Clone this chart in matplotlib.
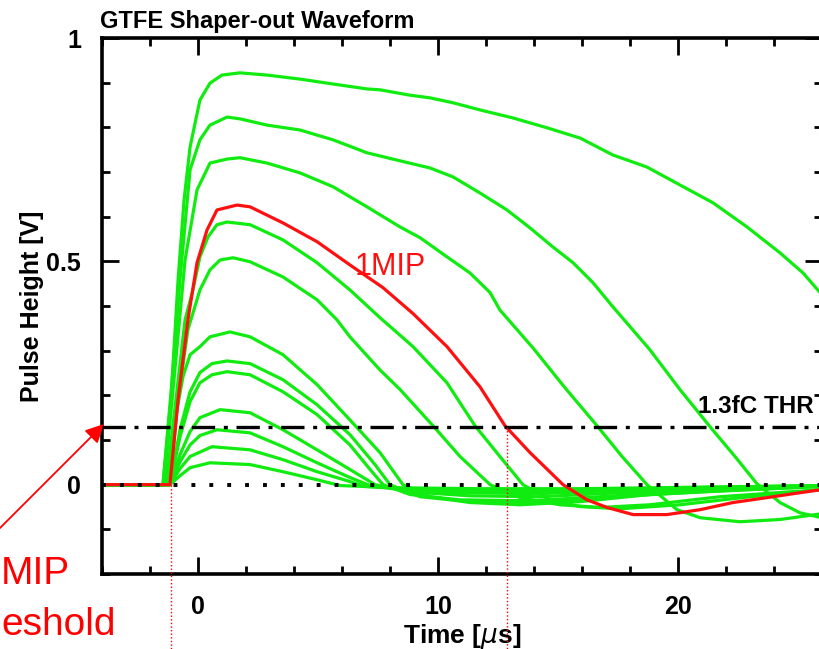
import matplotlib
matplotlib.use("Agg")
import matplotlib.pyplot as plt

# waveform traces: time [us], height [V]
t_g1 = [-4.0, -1.46, -1.125, -0.83, -0.58, -0.33, 0.08, 0.5, 1.0, 1.75, 2.875, 4.25, 5.625, 7.04, 7.58,
        8.83, 9.67, 10.625, 11.75, 13.125, 14.54, 15.92, 17.29, 18.71, 20.08, 21.46, 22.875, 24.25, 25.21, 26.0]
v_g1 = [0, 0, 0.190, 0.459, 0.638, 0.756, 0.861, 0.899, 0.917, 0.922, 0.917, 0.908, 0.897, 0.886, 0.884,
        0.872, 0.866, 0.855, 0.839, 0.821, 0.799, 0.776, 0.738, 0.711, 0.671, 0.631, 0.577, 0.519, 0.474, 0.425]

t_g2 = [-4.0, -1.46, -1.08, -0.75, -0.33, 0.08, 0.5, 1.21, 1.75, 2.875, 4.25, 5.625, 7.04, 8.42, 9.67, 10.625,
        11.75, 12.875, 13.83, 14.79, 15.625, 16.46, 17.29, 18.83, 20.08, 21.33, 22.375, 23.29, 24.25, 25.08, 26.0]
v_g2 = [0, 0, 0.235, 0.459, 0.705, 0.772, 0.805, 0.823, 0.819, 0.805, 0.794, 0.772, 0.743, 0.725, 0.709, 0.689,
        0.653, 0.615, 0.575, 0.532, 0.497, 0.452, 0.398, 0.302, 0.213, 0.130, 0.063, 0.002, -0.040, -0.063, -0.074]

t_g3 = [-4.0, -1.42, -1.0, -0.54, -0.04, 0.5, 1.21, 1.75, 2.875, 4.25, 5.625, 7.04, 8.42, 9.25, 10.375, 11.33,
        12.17, 12.58, 13.96, 15.29, 16.625, 17.67, 18.71, 19.96, 20.92, 22.58, 24.25, 26.0]
v_g3 = [0, 0, 0.235, 0.503, 0.660, 0.720, 0.729, 0.732, 0.720, 0.698, 0.667, 0.622, 0.577, 0.553, 0.510, 0.474,
        0.430, 0.391, 0.306, 0.217, 0.132, 0.063, 0, -0.056, -0.074, -0.083, -0.078, -0.065]

# 1 MIP pulse (red)
t_mip = [-4.0, -1.17, -0.83, -0.42, -0.04, 0.375, 0.79, 1.625, 2.17, 3.54, 4.96, 6.33, 7.71, 8.96, 10.375,
         11.75, 12.79, 13.83, 15.21, 16.21, 17.04, 18.125, 19.54, 20.92, 22.29, 23.71, 25.08, 26.0]
v_mip = [0, 0, 0.190, 0.369, 0.497, 0.570, 0.615, 0.626, 0.622, 0.586, 0.544, 0.492, 0.441, 0.383, 0.309,
         0.219, 0.132, 0.072, 0, -0.034, -0.051, -0.067, -0.067, -0.056, -0.040, -0.029, -0.018, -0.011]

t_g5 = [-4.0, -1.33, -0.92, -0.54, -0.21, 0.08, 0.42, 0.79, 1.21, 2.17, 3.54, 4.96, 6.33, 7.58, 8.96, 10.375,
        11.54, 12.58, 13.54, 14.67, 15.92, 17.58, 20.08, 23.0, 26.0]
v_g5 = [0, 0, 0.190, 0.369, 0.436, 0.510, 0.555, 0.582, 0.588, 0.582, 0.548, 0.497, 0.436, 0.374, 0.309, 0.228,
        0.132, 0.063, 0, -0.034, -0.049, -0.054, -0.045, -0.027, -0.011]

t_g6 = [-4.0, -1.25, -0.83, -0.42, 0.08, 0.5, 0.92, 1.46, 2.17, 3.54, 4.96, 5.79, 6.33, 7.58, 8.42, 9.79,
        10.92, 12.17, 13.42, 15.08, 16.75, 18.83, 21.75, 26.0]
v_g6 = [0, 0, 0.190, 0.347, 0.436, 0.481, 0.503, 0.508, 0.499, 0.465, 0.414, 0.369, 0.331, 0.257, 0.213, 0.132,
        0.063, 0, -0.029, -0.045, -0.051, -0.045, -0.027, -0.011]

t_g7 = [-4.0, -1.17, -0.875, -0.625, -0.33, 0.08, 0.5, 1.33, 2.17, 3.54, 4.96, 6.33, 7.58, 8.54, 9.67, 11.33,
        13.42, 15.92, 18.83, 23.0, 26.0]
v_g7 = [0, 0, 0.168, 0.242, 0.291, 0.309, 0.331, 0.342, 0.331, 0.291, 0.224, 0.145, 0.072, 0, -0.027, -0.040,
        -0.045, -0.038, -0.022, -0.011, -0.004]

t_g8 = [-4.0, -1.17, -0.75, -0.33, 0.08, 0.58, 1.21, 2.17, 3.54, 4.96, 6.33, 7.375, 8.0, 9.25, 11.33, 13.83,
        16.75, 20.92, 26.0]
v_g8 = [0, 0, 0.123, 0.208, 0.251, 0.271, 0.277, 0.271, 0.235, 0.179, 0.112, 0.045, 0, -0.027, -0.038, -0.040,
        -0.029, -0.016, -0.004]

t_g9 = [-4.0, -1.17, -0.75, -0.33, 0.08, 0.58, 1.21, 2.17, 3.54, 4.96, 6.33, 7.17, 7.71, 8.83, 10.92, 13.83,
        16.75, 20.92, 26.0]
v_g9 = [0, 0, 0.107, 0.186, 0.228, 0.246, 0.253, 0.246, 0.208, 0.157, 0.089, 0.034, 0, -0.022, -0.034, -0.036,
        -0.027, -0.013, -0.002]

t_g10 = [-4.0, -1.17, -0.75, -0.33, 0.08, 0.92, 2.17, 3.54, 4.96, 6.33, 7.375, 8.83, 11.33, 14.25, 17.58, 21.75, 26.0]
v_g10 = [0, 0, 0.067, 0.119, 0.150, 0.168, 0.161, 0.123, 0.078, 0.034, 0, -0.016, -0.025, -0.027, -0.018, -0.009, -0.002]

t_g11 = [-4.0, -1.17, -0.75, -0.33, 0.08, 0.79, 2.17, 3.54, 4.96, 6.33, 7.17, 8.42, 10.92, 14.25, 18.42, 26.0]
v_g11 = [0, 0, 0.051, 0.089, 0.110, 0.123, 0.116, 0.085, 0.049, 0.016, -0.002, -0.011, -0.018, -0.020, -0.011, -0.002]

t_g12 = [-4.0, -1.17, -0.75, -0.33, 0.58, 2.17, 3.54, 4.96, 6.33, 6.96, 8.42, 11.33, 15.08, 20.08, 26.0]
v_g12 = [0, 0, 0.036, 0.063, 0.085, 0.078, 0.056, 0.029, 0.007, -0.004, -0.009, -0.013, -0.013, -0.007, -0.002]

t_g13 = [-4.0, -1.17, -0.75, -0.33, 0.5, 2.17, 3.54, 4.96, 5.92, 8.42, 11.75, 15.92, 26.0]
v_g13 = [0, 0, 0.020, 0.038, 0.049, 0.045, 0.029, 0.011, -0.002, -0.007, -0.009, -0.009, -0.002]

green_traces = [(t_g1, v_g1), (t_g2, v_g2), (t_g3, v_g3), (t_g5, v_g5), (t_g6, v_g6), (t_g7, v_g7),
                (t_g8, v_g8), (t_g9, v_g9), (t_g10, v_g10), (t_g11, v_g11), (t_g12, v_g12), (t_g13, v_g13)]

thr = 0.13             # 1.3 fC threshold [V]
marks_t = [-1.125, 12.875]   # start / threshold crossing of the 1 MIP pulse
marks_v = [0.0, 0.13]

FONT = "Liberation Sans"

fig = plt.figure(figsize=(8.2, 6.49), dpi=100)
ax = fig.add_axes([102 / 820, 1 - 574 / 649, 720 / 820, 536 / 649])

for t, v in green_traces:
    ax.plot(t, v, color="#10ec10", lw=2.3, solid_joinstyle="round", zorder=2)
ax.plot(t_mip, v_mip, color="#ff1010", lw=2.3, solid_joinstyle="round", zorder=3)

ax.axhline(0, color="black", lw=2.8, linestyle=(0, (1.0, 3.6)), zorder=5)
ax.axhline(thr, color="black", lw=2.4, linestyle=(0, (7.0, 2.6, 1.2, 2.6)), zorder=5)

# red dotted markers running down past the axis
for mt, mv in zip(marks_t, marks_v):
    ax.plot([mt, mt], [mv, -0.37], color="red", lw=1.0, linestyle=(0, (1, 1.6)),
            clip_on=False, zorder=6)

ax.set_xlim(-4, 26)
ax.set_ylim(-0.2, 1.0)
ax.set_xticks([0, 10, 20])
ax.set_xticks(range(-4, 27, 2), minor=True)
ax.set_yticks([0, 0.5, 1])
ax.set_yticklabels(["0", "0.5", "1"])
ax.set_yticks([-0.2 + 0.1 * i for i in range(13)], minor=True)
ax.tick_params(which="both", direction="in", top=True, right=True, width=2)
ax.tick_params(which="major", length=12, labelsize=18)
ax.tick_params(axis="x", which="major", pad=15)
ax.tick_params(axis="y", which="major", pad=15)
ax.tick_params(which="minor", length=6)
for lab in ax.get_xticklabels() + ax.get_yticklabels():
    lab.set_fontfamily(FONT)
    lab.set_fontweight("bold")
for sp in ax.spines.values():
    sp.set_linewidth(2.6)

ax.set_xlabel("Time [$\\mu$s]", fontsize=19, fontweight="bold", family=FONT, labelpad=2)
ax.set_ylabel("Pulse Height [V]", fontsize=18, fontweight="bold", family=FONT, labelpad=2)
fig.text(100 / 820, 1 - 28 / 649, "GTFE Shaper-out Waveform", fontsize=17, fontweight="bold",
         family=FONT, ha="left", va="baseline")

ax.text(6.54, 0.47, "1MIP", color="#ff1010", fontsize=22, family=FONT, ha="left", va="baseline")
ax.text(20.85, 0.161, "1.3fC THR", color="black", fontsize=17.5, fontweight="bold", family=FONT,
        ha="left", va="baseline")

# arrow + the visible part of the left-hand label
ax.annotate("", xy=(104 / 820, 1 - 424 / 649), xytext=(-4 / 820, 1 - 532 / 649),
            xycoords="figure fraction", textcoords="figure fraction",
            arrowprops=dict(arrowstyle="-|>", color="red", lw=1.3, mutation_scale=28,
                            shrinkA=0, shrinkB=0))
fig.text(1 / 820, 1 - 584 / 649, "MIP", color="red", fontsize=28, family=FONT,
         ha="left", va="baseline")
fig.text(1 / 820, 1 - 635 / 649, "eshold", color="red", fontsize=28, family=FONT,
         ha="left", va="baseline")

fig.savefig("out.png", dpi=100)
